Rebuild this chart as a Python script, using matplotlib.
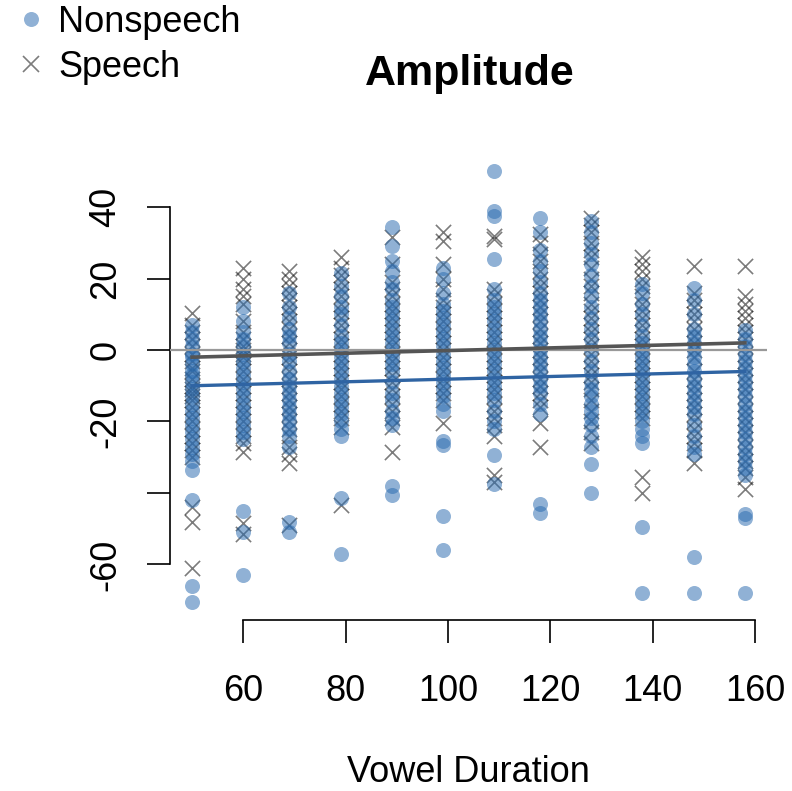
import matplotlib
matplotlib.use("Agg")
import matplotlib.pyplot as plt
from matplotlib.lines import Line2D

plt.rcParams['font.family'] = ['Liberation Sans', 'DejaVu Sans']
plt.rcParams['axes.unicode_minus'] = False

# vowel duration levels (x positions of the point columns)
durations = [50, 60, 69, 79, 89, 99, 109, 118, 128, 138, 148, 158]

# amplitude values per duration, speech condition (crosses)
speech_vals = [
    [10.5, 7, 5, 3, 1, -1, -3, -5, -6, -8, -10, -11, -12, -13, -14, -16, -18, -20, -22, -24, -26, -28, -30, -44, -48, -61],
    [23, 20, 17, 15, 13, 8, 5, 3, 1, 0, -1, -2, -4, -6, -8, -10, -12, -14, -16, -18, -20, -22, -24, -26, -28.5, -48.5, -51.5],
    [22, 20, 18, 16, 14, 12, 10, 8, 6, 4, 2, 0, -2, -4, -6, -8, -10, -12, -14, -16, -18, -20, -22, -24, -27, -29, -31.5, -49],
    [26, 23, 21, 19, 17, 15, 13, 11, 9, 7, 5, 3, 1, -1, -3, -5, -7, -9, -11, -13, -15, -17, -19, -21.5, -43.5],
    [31.5, 24, 19, 17, 15, 13, 11, 9, 7, 5, 3, 1, -1, -3, -5, -7, -9, -11, -13, -15, -17, -19, -21.5, -28.5],
    [33, 30.5, 24, 20, 17, 14, 12, 10, 8, 6, 4, 2, 0, -2, -4, -6, -8, -10, -12, -14, -20.5],
    [32, 31, 17, 15, 13, 11, 9, 7, 5, 3, 1, -1, -3, -5, -7, -9, -11, -13, -15, -17, -19, -21, -24, -35, -37],
    [32.5, 30, 27, 25, 22, 20, 18, 16, 14, 12, 10, 8, 6, 4, 2, 0, -2, -4, -6, -8, -10, -12, -14, -16, -20.5, -27],
    [37, 35, 33, 30, 28, 26, 23, 20, 18, 16, 13, 11, 9, 7, 5, 3, 1, -1, -3, -5, -7, -9, -11, -14, -17, -20, -23, -26],
    [26, 24, 22, 20, 18, 15, 13, 11, 9, 7, 5, 3, 1, -1, -3, -5, -7, -9, -11, -13, -15, -17, -19, -35.5, -40],
    [23.5, 16, 14, 12, 10, 8, 6, 4, 2, 0, -2, -6, -8, -10, -12, -14, -16, -18, -20, -22, -24, -26, -28, -31.5],
    [23.5, 15, 13, 11, 9, 7, 5, 3, 1, -1, -3, -5, -7, -9, -11, -13, -15, -17, -19, -21, -23, -25, -27, -29, -31, -33, -35.5, -39],
]

# amplitude values per duration, nonspeech condition (circles)
nonspeech_vals = [
    [7, 5, 3, 1, -1, -2, -4, -6, -7, -9, -11, -13, -15, -17, -19, -21, -23, -25, -27, -29, -31, -33.5, -42, -66, -70.5],
    [12, 8, 5, 3, 1, -1, -3, -5, -7, -9, -11, -13, -15, -17, -19, -21, -23, -25, -45, -51, -63],
    [16, 12, 9, 6, 4, 2, -1, -3, -6, -8, -10, -12, -14, -16, -18, -20, -22, -24, -27, -48, -51],
    [21.5, 18, 15, 12, 10, 7, 4, 2, 0, -2, -4, -6, -8, -10, -12, -14, -16, -18, -20, -22, -24, -41.5, -57],
    [34.5, 29, 25, 22, 19, 17, 14, 12, 10, 8, 6, 4, 2, 0, -2, -4, -6, -9, -12, -14, -17, -19, -21, -38, -40.5],
    [23, 20, 16, 13, 11, 9, 7, 5, 3, 1, -1, -3, -5, -7, -9, -11, -13, -15, -17, -25.5, -26.5, -46.5, -56],
    [50, 39, 37.5, 25.5, 17, 14, 12, 10, 8, 6, 4, 2, 0, -2, -4, -6, -8, -10, -12, -14, -17, -20, -22, -29.5, -37.5],
    [37, 33, 28, 25, 22, 19, 16, 14, 12, 10, 8, 6, 4, 2, 0, -2, -4, -6, -8, -10, -12, -15, -18, -43, -45.5],
    [36, 33, 30, 27, 24, 21, 18, 15, 12, 9, 6, 3, 0, -3, -6, -9, -11, -13, -15, -17, -19, -21, -24, -27, -32, -40],
    [18.5, 16, 13, 10, 7, 4, 2, 0, -2, -4, -6, -8, -10, -12, -14, -16, -18, -20, -22, -24, -26, -49.5, -68],
    [17.5, 14, 10, 6, 4, 2, 0, -2, -4, -6, -8, -10, -12, -14, -16, -18, -21, -24, -27, -29, -58, -68],
    [5.5, 3, 1, -1, -3, -5, -7, -9, -11, -13, -15, -17, -19, -21, -23, -25, -27, -29, -31, -33, -35, -46, -47, -68],
]

# fitted regression lines (endpoints)
fit_x = [50, 158]
fit_nonspeech = [-10, -6]
fit_speech = [-2, 2]

yticks = [-60, -40, -20, 0, 20, 40]
ytick_labels = ['-60', '', '-20', '0', '20', '40']
xticks = [60, 80, 100, 120, 140, 160]

blue = '#2a6bb0'

fig = plt.figure(figsize=(7.92, 7.91), dpi=100)
ax = fig.add_axes([0.2146, 0.2158, 0.7538, 0.5894])

# crosses first, circles on top so the blue shows through like the original
for d, vals in zip(durations, speech_vals):
    ax.scatter([d] * len(vals), vals, s=120, marker='x', color='#111111',
               alpha=0.55, linewidths=1.2)
for d, vals in zip(durations, nonspeech_vals):
    ax.scatter([d] * len(vals), vals, s=117, marker='o', color=blue,
               alpha=0.52, linewidths=0)

ax.axhline(0, color='#999999', lw=1.6, zorder=3)
ax.plot(fit_x, fit_speech, color='#555555', lw=2.6, zorder=4)
ax.plot(fit_x, fit_nonspeech, color='#2f64a3', lw=2.4, zorder=4)

ax.set_xlim(45.68, 162.32)
ax.set_ylim(-75.64, 54.84)

for s in ['top', 'right']:
    ax.spines[s].set_visible(False)
ax.spines['left'].set_bounds(-60, 40)
ax.spines['bottom'].set_bounds(60, 160)
ax.spines['left'].set_linewidth(1.2)
ax.spines['bottom'].set_linewidth(1.2)

ax.set_yticks(yticks)
ax.set_yticklabels(ytick_labels, rotation=90, va='center')
ax.set_xticks(xticks)
ax.tick_params(axis='both', length=16.5, width=1.2, labelsize=26)
ax.tick_params(axis='y', pad=17)
ax.tick_params(axis='x', pad=22)

ax.set_xlabel('Vowel Duration', fontsize=26, labelpad=33)
fig.text(0.593, 0.907, 'Amplitude', fontsize=31, fontweight='bold',
         ha='center', va='center')

handles = [
    Line2D([], [], marker='o', linestyle='', color=blue, alpha=0.52,
           markersize=10.8, markeredgewidth=0),
    Line2D([], [], marker='x', linestyle='', color='#111111', alpha=0.55,
           markersize=11, markeredgewidth=1.2),
]
fig.legend(handles, ['Nonspeech', 'Speech'], loc='upper left',
           bbox_to_anchor=(-0.002, 1.012), frameon=False, fontsize=26,
           handlelength=1.0, handletextpad=0.26, labelspacing=0.28,
           borderaxespad=0)

fig.savefig('out.png', dpi=100)
